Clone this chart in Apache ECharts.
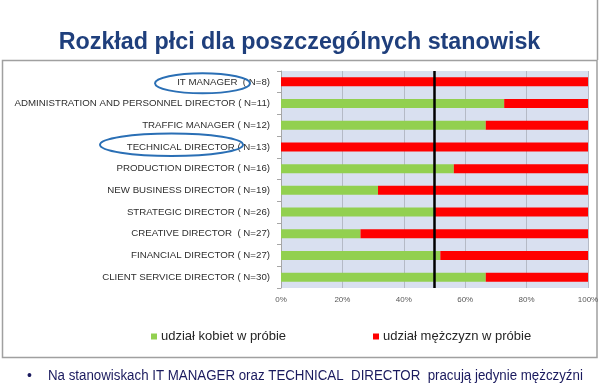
<!DOCTYPE html>
<html>
<head>
<meta charset="utf-8">
<script src="https://cdn.jsdelivr.net/npm/echarts@6/dist/echarts.min.js"></script>
<style>html,body{margin:0;padding:0;background:#fff;}#c{width:599px;height:388px;}</style>
</head>
<body>
<div id="c"></div>
<script>
const categories = [
  'IT MANAGER  ( N=8)',
  'ADMINISTRATION AND PERSONNEL DIRECTOR ( N=11)',
  'TRAFFIC MANAGER ( N=12)',
  'TECHNICAL DIRECTOR ( N=13)',
  'PRODUCTION DIRECTOR ( N=16)',
  'NEW BUSINESS DIRECTOR ( N=19)',
  'STRATEGIC DIRECTOR ( N=26)',
  'CREATIVE DIRECTOR  ( N=27)',
  'FINANCIAL DIRECTOR ( N=27)',
  'CLIENT SERVICE DIRECTOR ( N=30)'
];
const women = [0, 72.7, 66.7, 0, 56.3, 31.6, 50, 25.9, 51.9, 66.7];
const men = [100, 27.3, 33.3, 100, 43.7, 68.4, 50, 74.1, 48.1, 33.3];
const seriesNames = ['udział kobiet w próbie', 'udział mężczyzn w próbie'];
const xTicks = [0, 20, 40, 60, 80, 100];
const titleText = 'Rozkład płci dla poszczególnych stanowisk';
const noteText = 'Na stanowiskach IT MANAGER oraz TECHNICAL  DIRECTOR  pracują jedynie mężczyźni';

const chart = echarts.init(document.getElementById('c'), null, {renderer: 'canvas'});
const labelFont = '"Liberation Sans", Arial, sans-serif';
chart.setOption({
  animation: false,
  title: {
    text: titleText, left: 'center', top: 26,
    textStyle: {fontFamily: '"Liberation Sans", Arial, sans-serif', fontSize: 23.3, fontWeight: 'bold', color: '#1f3f7c'}
  },
  grid: {left: 281, right: 11, top: 71, bottom: 100, show: true, backgroundColor: '#d9e0f0', borderWidth: 0,
         containLabel: false, outerBoundsMode: 'none'},
  legend: [
    {data: [seriesNames[0]], left: 146, top: 325, icon: 'rect', itemWidth: 6, itemHeight: 6, itemGap: 4,
     textStyle: {fontFamily: '"Liberation Sans", Arial, sans-serif', fontSize: 13, color: '#262626', padding: [0,0,0,-1]}},
    {data: [seriesNames[1]], left: 368, top: 325, icon: 'rect', itemWidth: 6, itemHeight: 6, itemGap: 4,
     textStyle: {fontFamily: '"Liberation Sans", Arial, sans-serif', fontSize: 13, color: '#262626', padding: [0,0,0,-1]}}
  ],
  xAxis: {
    type: 'value', min: xTicks[0], max: xTicks[xTicks.length - 1], interval: 20,
    axisLine: {show: false}, axisTick: {show: false},
    axisLabel: {formatter: '{value}%', fontSize: 8, color: '#595959', margin: 8, fontFamily: labelFont},
    splitLine: {show: true, lineStyle: {color: '#b5bac6', width: 1}}
  },
  yAxis: {
    type: 'category', data: categories, inverse: true,
    axisLine: {show: true, lineStyle: {color: '#a6a6a6'}},
    axisTick: {show: true, length: 4, lineStyle: {color: '#a6a6a6'}},
    axisLabel: {fontSize: 9.7, color: '#2e2e2e', margin: 11, fontFamily: labelFont}
  },
  series: [
    {name: seriesNames[0], type: 'bar', stack: 's', data: women, barWidth: 9,
     itemStyle: {color: '#92d050'},
     markLine: {silent: true, symbol: 'none', label: {show: false},
       lineStyle: {color: '#000', width: 2.5, type: 'solid'}, data: [{xAxis: 50}]}},
    {name: seriesNames[1], type: 'bar', stack: 's', data: men, barWidth: 9,
     itemStyle: {color: '#ff0000'}}
  ],
  graphic: [
    {type: 'rect', shape: {x: 2.5, y: 60.5, width: 594.5, height: 297}, style: {fill: 'none', stroke: '#a0a0a0', lineWidth: 1.5}, z: -1},
    {type: 'line', shape: {x1: 597.5, y1: 0, x2: 597.5, y2: 60}, style: {stroke: '#a0a0a0', lineWidth: 1.5}},
    {type: 'ellipse', shape: {cx: 202.5, cy: 83.3, rx: 47.5, ry: 10}, style: {fill: 'none', stroke: '#2a6fb5', lineWidth: 2}, z: 100},
    {type: 'ellipse', shape: {cx: 171.5, cy: 144.7, rx: 71.5, ry: 11.3}, style: {fill: 'none', stroke: '#2a6fb5', lineWidth: 2}, z: 100},
    {type: 'text', x: 27, y: 376, style: {text: '•', fontSize: 14, fill: '#1a1a5e', verticalAlign: 'middle', fontFamily: 'Arial, sans-serif'}},
    {type: 'text', x: 48, y: 376, scaleX: 0.95, style: {text: noteText, fontSize: 14, fill: '#1a1a5e', verticalAlign: 'middle', fontFamily: '"Liberation Sans", Arial, sans-serif'}}
  ]
});
</script>
</body>
</html>
